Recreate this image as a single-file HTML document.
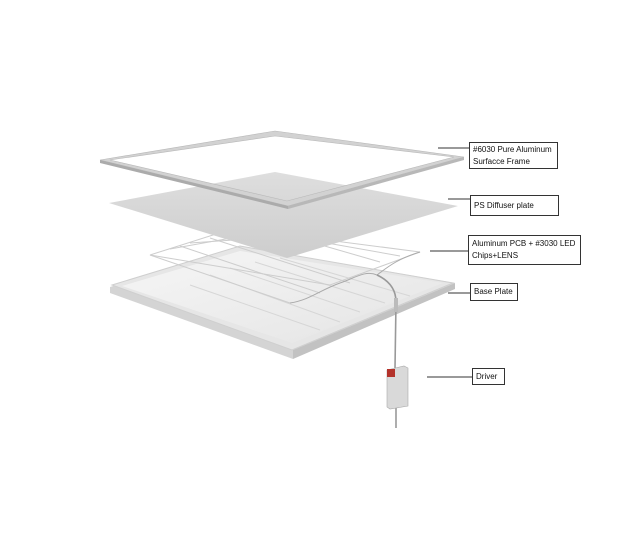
<!DOCTYPE html>
<html><head><style>
html,body{margin:0;padding:0;background:#fff;width:644px;height:542px;overflow:hidden}
.lb{position:absolute;border:1px solid #333;background:#fff;font-family:"Liberation Sans",sans-serif;font-size:8px;line-height:12px;color:#111;padding:1px 3px;box-sizing:border-box}
</style></head><body>
<svg width="644" height="542" style="position:absolute;left:0;top:0">
<defs>
<linearGradient id="tr" x1="0" y1="0" x2="1" y2="1"><stop offset="0" stop-color="#f6f6f6"/><stop offset="1" stop-color="#e4e4e4"/></linearGradient>
<linearGradient id="df" x1="0" y1="0" x2="0" y2="1"><stop offset="0" stop-color="#dedede"/><stop offset="1" stop-color="#cdcdcd"/></linearGradient>
</defs>
<!-- tray -->
<polygon points="110,287 240,246 455,283 293,350 293,359 110,293" fill="#d4d4d4"/>
<polygon points="293,350 455,283 455,289 293,359" fill="#c2c2c2"/>
<polygon points="112,285 240,246 453,283 292,350" fill="#e6e6e6" stroke="#cfcfcf" stroke-width="1"/>
<polygon points="122,286 240,251 443,283 292,343" fill="url(#tr)"/>
<g stroke="#d6d6d6" stroke-width="1" fill="none">
<path d="M190,285 L320,330"/><path d="M210,275 L340,322"/><path d="M230,268 L360,312"/><path d="M255,262 L385,303"/><path d="M280,258 L410,296"/>
</g>
<!-- PCB strips -->
<g stroke="#cdcdcd" stroke-width="1" fill="none">
<path d="M150,255 L235,228 L420,252 L330,285 Z"/>
<path d="M170,249 L265,232 L400,256"/><path d="M190,243 L290,236 L380,262"/>
<path d="M150,255 L290,303"/><path d="M180,246 L320,293"/><path d="M210,238 L350,283"/>
<path d="M290,303 C310,300 320,290 340,283 C355,278 365,270 377,275 C390,265 400,258 420,252" stroke="#aaa"/>
</g>
<!-- diffuser -->
<polygon points="109,203 275,172 458,206 287,258" fill="url(#df)"/>
<!-- frame ring -->
<path fill-rule="evenodd" d="M100,160 L275,131 L464,157 L288,206 Z M110,160 L275,136 L454,157 L287,201 Z" fill="#d2d2d2" stroke="#b8b8b8" stroke-width="0.6"/>
<polygon points="100,160 288,206 288,209 100,163" fill="#ababab"/>
<polygon points="288,206 464,157 464,160 288,209" fill="#b8b8b8"/>
<!-- cable -->
<path d="M377,275 C392,282 396,292 396,302 L395,368 M396,407 L396,428" stroke="#999" stroke-width="1.6" fill="none"/>
<rect x="394" y="298" width="4" height="14" fill="#bbb"/>
<!-- driver -->
<polygon points="387,370 404,366 408,368 408,406 390,409 387,407" fill="#d9d9d9" stroke="#aaa" stroke-width="0.6"/>
<rect x="387" y="369" width="8" height="8" fill="#b3322a"/>
<!-- leader lines -->
<g stroke="#333" stroke-width="1">
<line x1="438" y1="148" x2="469" y2="148"/>
<line x1="448" y1="199" x2="470" y2="199"/>
<line x1="430" y1="251" x2="468" y2="251"/>
<line x1="448" y1="293" x2="470" y2="293"/>
<line x1="427" y1="377" x2="472" y2="377"/>
</g>
</svg>
<div class="lb" style="left:469px;top:142px;width:89px;height:27px">#6030 Pure Aluminum<br>Surfacce Frame</div>
<div class="lb" style="left:470px;top:195px;width:89px;height:21px;padding-top:4px">PS Diffuser plate</div>
<div class="lb" style="left:468px;top:235px;width:113px;height:30px;padding-top:2px">Aluminum PCB + #3030 LED<br>Chips+LENS</div>
<div class="lb" style="left:470px;top:283px;width:48px;height:18px;padding-top:2px">Base Plate</div>
<div class="lb" style="left:472px;top:368px;width:33px;height:17px;padding-top:2px">Driver</div>
</body></html>
